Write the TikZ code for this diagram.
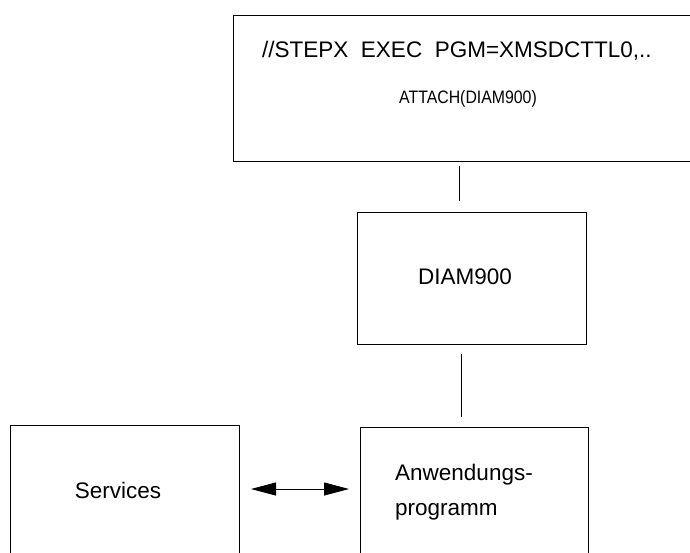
\documentclass[tikz,border=0pt]{standalone}
\usepackage{fontspec}
\setmainfont{Liberation Sans}
\newfontfamily\condfont[FakeStretch=0.88]{Liberation Sans}
\usetikzlibrary{arrows.meta,positioning}

\begin{document}
\begin{tikzpicture}[x=1pt,y=-1pt,
		kasten/.style={draw,line width=1pt,inner sep=0pt,anchor=north west},
		txt/.style={inner sep=0pt,font=\fontsize{22.5}{27}\selectfont},
		verb/.style={line width=1pt}]
		\useasboundingbox (0,0) rectangle (690,552);
		\clip (0,0) rectangle (690,552);
		% Kaesten
		\node[kasten,minimum width=480pt,minimum height=146pt] (jcl) at (233,15) {};
		\node[kasten,minimum width=229pt,minimum height=132pt] (diam) at (357,212) {};
		\node[kasten,minimum width=229pt,minimum height=160pt] (serv) at (10,425) {};
		\node[kasten,minimum width=228pt,minimum height=160pt] (anw) at (360,427) {};
		% Texte
		\node[txt,anchor=base west] (stepx) at (262,57) {//STEPX~~EXEC~~PGM=XMSDCTTL0,..};
		\node[inner sep=0pt,anchor=base,font=\condfont\fontsize{18}{22}\selectfont] (attach) at (468,103) {ATTACH(DIAM900)};
		\node[txt,anchor=base] (diamtxt) at (465,284) {DIAM900};
		\node[txt,anchor=base] (servtxt) at (118,498) {Services};
		\node[txt,anchor=base west] (anwtxt) at (395,480) {Anwendungs-};
		\node[txt,anchor=base west] (prgtxt) at (395,515) {programm};
		% Verbindungen
		\draw[verb,shorten <=4pt,shorten >=11pt] (jcl.south -| 459,0) -- (diam.north -| 459,0);
		\draw[verb,shorten <=9pt,shorten >=10pt] (diam.south -| 461,0) -- (anw.north -| 461,0);
		\draw[verb,{Triangle[length=25pt,width=13pt]}-{Triangle[length=25pt,width=13pt]},shorten <=11pt,shorten >=11pt]
			(serv.east |- 0,489) -- (anw.west |- 0,489);
\end{tikzpicture}
\end{document}
